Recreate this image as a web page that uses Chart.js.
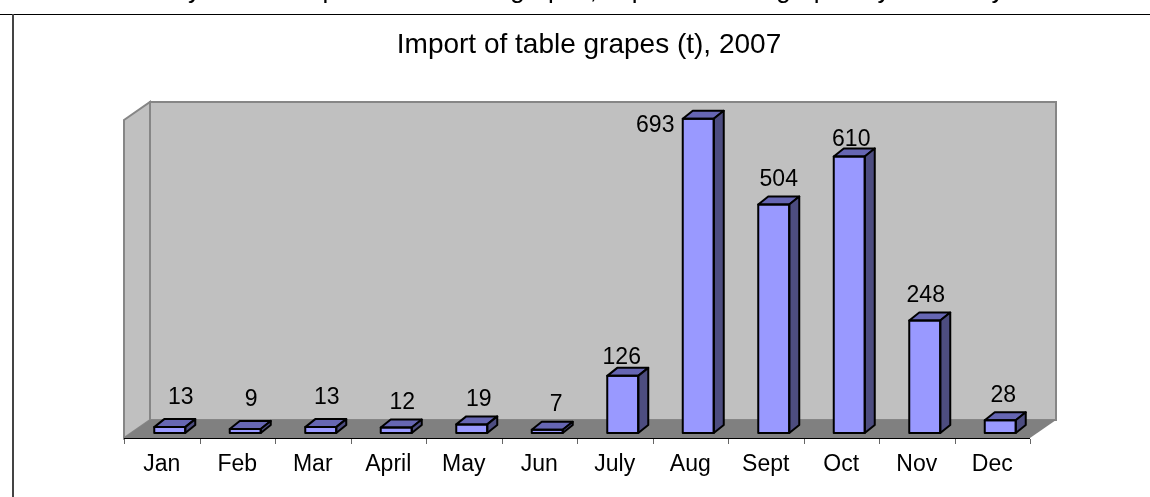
<!DOCTYPE html>
<html>
<head>
<meta charset="utf-8">
<script src="https://cdn.jsdelivr.net/npm/chart.js@4"></script>
<style>
  body { margin: 0; background: #fff; }
  canvas { display: block; }
</style>
</head>
<body>
<canvas id="myChart" width="1150" height="497"></canvas>
<script>
const months = ["Jan", "Feb", "Mar", "April", "May", "Jun", "July", "Aug", "Sept", "Oct", "Nov", "Dec"];
const imports = [13, 9, 13, 12, 19, 7, 126, 693, 504, 610, 248, 28];
// deslocamento de cada rotulo em relacao ao topo da barra
const labelDx = [11, 6, 6, 6, 7, 9, -1, -43, 5, 2, 1, 3];
const labelDy = [-21, -21, -21, -17, -17, -17, -10, 15, -17, -9, -17, -17];

const titulo = "Import of table grapes (t), 2007";
const textoCortado = "Monthly data of import of the table grapes, import of table grapes by month by";
const fonte = "'Liberation Sans', Arial, sans-serif";

const DEPTH_X = 26, DEPTH_Y = 18, BAR_DX = 10, BAR_DY = 8, SHIFT = 8;

function poly(ctx, pts, fill, stroke, lw) {
  ctx.beginPath();
  pts.forEach((p, i) => (i ? ctx.lineTo(p[0], p[1]) : ctx.moveTo(p[0], p[1])));
  ctx.closePath();
  if (fill) {
    ctx.fillStyle = fill;
    ctx.fill();
  }
  if (stroke) {
    ctx.strokeStyle = stroke;
    ctx.lineWidth = lw;
    ctx.stroke();
  }
}

// Moldura, paredes e chao do grafico 3D
const fundo = {
  id: "fundo",
  beforeDraw(chart) {
    const { ctx, chartArea: a } = chart;
    chart.titleBlock.left += 4;
    chart.titleBlock.right += 4;
    const l = a.left - SHIFT, r = a.right - SHIFT, y0 = a.bottom + 5, top = 102;
    ctx.save();
    ctx.fillStyle = "#fff";
    ctx.fillRect(0, 0, chart.width, chart.height);

    // texto da linha acima, cortado pela borda
    ctx.fillStyle = "#000";
    ctx.font = "26px " + fonte;
    ctx.textAlign = "left";
    ctx.textBaseline = "alphabetic";
    ctx.fillText(textoCortado, 110, -2);

    ctx.fillStyle = "#000";
    ctx.fillRect(0, 14, chart.width, 1);
    ctx.fillStyle = "#444";
    ctx.fillRect(12, 14, 2, chart.height - 14);

    const wx = l + DEPTH_X, wy = y0 - DEPTH_Y;
    poly(ctx, [[wx, top], [r + DEPTH_X, top], [r + DEPTH_X, wy], [wx, wy]], "#c0c0c0", "#868686", 2);
    poly(ctx, [[l, top + DEPTH_Y], [wx, top], [wx, wy], [l, y0]], "#c0c0c0", "#868686", 2);
    poly(ctx, [[l, y0], [wx, wy], [r + DEPTH_X, wy], [r, y0]], "#808080", null, 0);

    ctx.strokeStyle = "#000";
    ctx.lineWidth = 1;
    ctx.beginPath();
    ctx.moveTo(l, y0 + 0.5);
    ctx.lineTo(r, y0 + 0.5);
    ctx.stroke();
    ctx.strokeStyle = "#666";
    const passo = (r - l) / months.length;
    for (let i = 0; i <= months.length; i++) {
      const x = Math.round(l + passo * i) + 0.5;
      ctx.beginPath();
      ctx.moveTo(x, y0 + 1);
      ctx.lineTo(x, y0 + 6);
      ctx.stroke();
    }
    ctx.restore();
  },
};

// Laterais das barras e rotulos de valor
const barras3d = {
  id: "barras3d",
  afterDatasetsDraw(chart) {
    const { ctx } = chart;
    const meta = chart.getDatasetMeta(0);
    ctx.save();
    ctx.lineJoin = "round";
    meta.data.forEach((bar) => {
      const l = bar.x - bar.width / 2, r = bar.x + bar.width / 2;
      const t = bar.y, b = bar.base;
      poly(ctx, [[l, t], [l + BAR_DX, t - BAR_DY], [r + BAR_DX, t - BAR_DY], [r, t]], "#6666b3", "#000", 2);
      poly(ctx, [[r, t], [r + BAR_DX, t - BAR_DY], [r + BAR_DX, b - BAR_DY], [r, b]], "#4d4d80", "#000", 2);
      poly(ctx, [[l, t], [r, t], [r, b], [l, b]], null, "#000", 2);
    });
    ctx.fillStyle = "#000";
    ctx.font = "23px " + fonte;
    ctx.textAlign = "center";
    ctx.textBaseline = "middle";
    meta.data.forEach((bar, i) => {
      ctx.fillText(String(imports[i]), bar.x + labelDx[i], bar.y - BAR_DY + labelDy[i]);
    });
    ctx.restore();
  },
};

new Chart(document.getElementById("myChart"), {
  type: "bar",
  data: {
    labels: months,
    datasets: [
      {
        label: "Import",
        data: imports,
        backgroundColor: "#9999ff",
        borderWidth: 0,
        barThickness: 31,
      },
    ],
  },
  options: {
    responsive: false,
    animation: false,
    layout: { padding: { left: 132, right: 112, top: 0, bottom: 0 } },
    plugins: {
      legend: { display: false },
      tooltip: { enabled: false },
      title: {
        display: true,
        text: titulo,
        color: "#000",
        font: { family: fonte, size: 28, weight: "normal" },
        padding: { top: 28, bottom: 54 },
      },
    },
    scales: {
      x: {
        grid: { display: false },
        border: { display: false },
        afterFit(scale) {
          scale.height = 64;
        },
        ticks: {
          color: "#000",
          font: { family: fonte, size: 23 },
          padding: 10,
          labelOffset: -SHIFT,
          maxRotation: 0,
          autoSkip: false,
        },
      },
      y: {
        display: false,
        min: 0,
        max: 700,
      },
    },
  },
  plugins: [fundo, barras3d],
});
</script>
</body>
</html>
